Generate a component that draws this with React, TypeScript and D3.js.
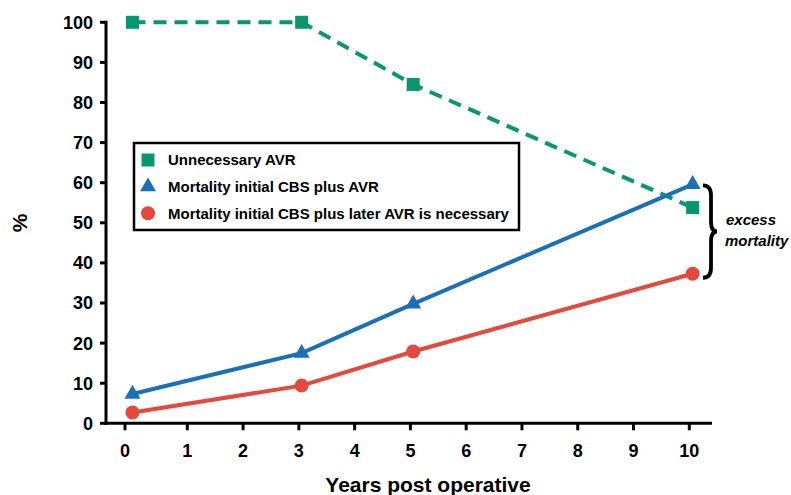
import React from "react";
import * as d3 from "d3";

const W = 791;
const H = 495;

// Years post operative (tick positions)
const xTicks = [0, 1, 2, 3, 4, 5, 6, 7, 8, 9, 10];
const yTicks = [0, 10, 20, 30, 40, 50, 60, 70, 80, 90, 100];

// Follow-up time of each observation (years)
const years = [0.12, 3.05, 5.05, 10.06];

// Series values (%)
const unnecessaryAVR = [100, 100, 84.5, 53.8];
const mortalityCBSplusAVR = [7.3, 17.5, 29.8, 59.6];
const mortalityLaterAVR = [2.7, 9.4, 17.9, 37.3];

const seriesNames = [
  "Unnecessary AVR",
  "Mortality initial CBS plus AVR",
  "Mortality initial CBS plus later AVR is necessary",
];

const GREEN = "#07976f";
const BLUE = "#1a6fb8";
const RED = "#e5483c";

const FONT = "'Liberation Sans', Arial, Helvetica, sans-serif";

export default function App() {
  // Tick 0 sits slightly left of the evenly spaced 1..10 ticks
  const x = d3.scaleLinear().domain([0, 1, 10]).range([125, 187.3, 689.3]);
  const y = d3.scaleLinear().domain([0, 100]).range([423.3, 22.3]);

  const line = d3
    .line<[number, number]>()
    .x((d) => x(d[0]))
    .y((d) => y(d[1]));

  const pts = (vals: number[]) => years.map((t, i) => [t, vals[i]] as [number, number]);

  const tri = d3.symbol().type(d3.symbolTriangle).size(110)();

  const x0 = 106;
  const xEnd = 712;

  return (
    <svg width={W} height={H} style={{ position: "absolute", left: 0, top: 0 }} fontFamily={FONT}>
      <rect width={W} height={H} fill="#fff" />

      {/* Axes */}
      <line x1={x0} x2={x0} y1={y(100) - 1.5} y2={y(0) + 1.5} stroke="#000" strokeWidth={3} />
      <line x1={x0 - 1.5} x2={xEnd} y1={y(0)} y2={y(0)} stroke="#000" strokeWidth={3} />

      {yTicks.map((t) => (
        <g key={"y" + t}>
          <line x1={x0 - 6} x2={x0} y1={y(t)} y2={y(t)} stroke="#000" strokeWidth={3} />
          <text
            x={93}
            y={y(t)}
            dy="0.36em"
            textAnchor="end"
            fontSize={18}
            fontWeight="bold"
          >
            {t}
          </text>
        </g>
      ))}

      {xTicks.map((t) => (
        <g key={"x" + t}>
          <line x1={x(t)} x2={x(t)} y1={y(0)} y2={y(0) + 7} stroke="#000" strokeWidth={3} />
          <text x={x(t)} y={457} textAnchor="middle" fontSize={18} fontWeight="bold">
            {t}
          </text>
        </g>
      ))}

      <text x={428} y={492} textAnchor="middle" fontSize={21} fontWeight="bold">
        Years post operative
      </text>
      <text
        transform={`translate(27,${y(50)}) rotate(-90)`}
        textAnchor="middle"
        fontSize={21}
        fontWeight="bold"
      >
        %
      </text>

      {/* Series lines */}
      <path
        d={line(pts(unnecessaryAVR)) || ""}
        fill="none"
        stroke={GREEN}
        strokeWidth={4}
        strokeDasharray="13 8"
      />
      <path d={line(pts(mortalityCBSplusAVR)) || ""} fill="none" stroke={BLUE} strokeWidth={4} />
      <path d={line(pts(mortalityLaterAVR)) || ""} fill="none" stroke={RED} strokeWidth={4} />

      {/* Markers */}
      {pts(unnecessaryAVR).map((p, i) => (
        <rect key={"g" + i} x={x(p[0]) - 6.5} y={y(p[1]) - 6.5} width={13} height={13} fill={GREEN} />
      ))}
      {pts(mortalityCBSplusAVR).map((p, i) => (
        <path key={"b" + i} d={tri || ""} transform={`translate(${x(p[0])},${y(p[1])})`} fill={BLUE} />
      ))}
      {pts(mortalityLaterAVR).map((p, i) => (
        <circle key={"r" + i} cx={x(p[0])} cy={y(p[1])} r={7} fill={RED} />
      ))}

      {/* Legend */}
      <rect x={134} y={143} width={385} height={87} fill="#fff" stroke="#000" strokeWidth={2.5} />
      {seriesNames.map((name, i) => {
        const cy = 160 + i * 26.6;
        const color = [GREEN, BLUE, RED][i];
        return (
          <g key={name}>
            {i === 0 && <rect x={141.5} y={cy - 6.5} width={13} height={13} fill={color} />}
            {i === 1 && <path d={tri || ""} transform={`translate(148,${cy})`} fill={color} />}
            {i === 2 && <circle cx={148} cy={cy} r={7} fill={color} />}
            <text x={168} y={cy} dy="0.36em" fontSize={15} fontWeight="bold">
              {name}
            </text>
          </g>
        );
      })}

      {/* Excess mortality brace between the two mortality curves at 10 years */}
      {(() => {
        const top = y(mortalityCBSplusAVR[3]) + 1;
        const bot = y(mortalityLaterAVR[3]) + 4;
        const mid = (top + bot) / 2;
        const bx = 706;
        const d = `M ${bx - 3} ${top} Q ${bx + 5} ${top} ${bx + 5} ${top + 10} L ${bx + 5} ${mid - 10} Q ${bx + 5} ${mid} ${bx + 11} ${mid} Q ${bx + 5} ${mid} ${bx + 5} ${mid + 10} L ${bx + 5} ${bot - 10} Q ${bx + 5} ${bot} ${bx - 3} ${bot}`;
        return <path d={d} fill="none" stroke="#000" strokeWidth={3.8} />;
      })()}
      <text x={726} y={225} fontSize={15} fontWeight="bold" fontStyle="italic">
        excess
      </text>
      <text x={725} y={246} fontSize={15} fontWeight="bold" fontStyle="italic">
        mortality
      </text>
    </svg>
  );
}
